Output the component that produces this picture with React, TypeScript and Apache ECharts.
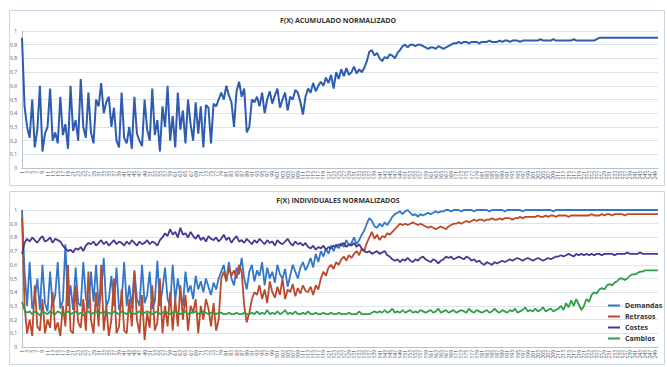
import React, { useEffect, useRef } from "react";
import * as echarts from "echarts";

const titleTop = "F(X) ACUMULADO NORMALIZADO";
const titleBottom = "F(X) INDIVIDUALES NORMALIZADOS";
const seriesNames = ["Demandas", "Retrasos", "Costes", "Cambios"];
const yTicks = [0, 0.1, 0.2, 0.3, 0.4, 0.5, 0.6, 0.7, 0.8, 0.9, 1];

const acumulado = [
  0.95, 0.45, 0.3, 0.22, 0.5, 0.15, 0.28, 0.6, 0.12, 0.25,
  0.3, 0.58, 0.2, 0.26, 0.18, 0.52, 0.24, 0.32, 0.14, 0.6,
  0.27, 0.35, 0.2, 0.65, 0.3, 0.22, 0.55, 0.26, 0.18, 0.5,
  0.45, 0.62, 0.4, 0.48, 0.52, 0.3, 0.44, 0.2, 0.15, 0.55,
  0.22, 0.18, 0.3, 0.14, 0.52, 0.25, 0.2, 0.16, 0.5, 0.28,
  0.2, 0.58, 0.24, 0.35, 0.12, 0.45, 0.3, 0.6, 0.2, 0.38,
  0.15, 0.55, 0.28, 0.42, 0.18, 0.5, 0.32, 0.2, 0.48, 0.25,
  0.45, 0.15, 0.46, 0.44, 0.18, 0.47, 0.45, 0.5, 0.55, 0.5,
  0.6, 0.53, 0.48, 0.3, 0.56, 0.63, 0.52, 0.58, 0.26, 0.3,
  0.5, 0.48, 0.52, 0.45, 0.55, 0.4, 0.5, 0.56, 0.47, 0.53,
  0.58, 0.44, 0.5, 0.55, 0.42, 0.52, 0.5, 0.57, 0.55, 0.48,
  0.39, 0.52, 0.58, 0.55, 0.62, 0.56, 0.6, 0.63, 0.6, 0.66,
  0.62, 0.68, 0.58, 0.7, 0.65, 0.72, 0.67, 0.73, 0.68, 0.7,
  0.74, 0.69, 0.72, 0.7, 0.73, 0.78, 0.85, 0.86, 0.82, 0.84,
  0.8, 0.78, 0.81, 0.8, 0.83, 0.82, 0.8, 0.84, 0.86, 0.89,
  0.9, 0.88, 0.9, 0.9, 0.89, 0.9, 0.9, 0.89, 0.88, 0.87,
  0.88, 0.88, 0.87, 0.89, 0.88, 0.87, 0.88, 0.89, 0.9, 0.91,
  0.91, 0.92, 0.91, 0.92, 0.92, 0.91, 0.92, 0.92, 0.92, 0.91,
  0.92, 0.92, 0.92, 0.93, 0.92, 0.92, 0.92, 0.93, 0.92, 0.93,
  0.93, 0.92, 0.93, 0.93, 0.93, 0.92, 0.93, 0.93, 0.93, 0.93,
  0.93, 0.93, 0.93, 0.94, 0.93, 0.93, 0.93, 0.93, 0.94, 0.93,
  0.93, 0.93, 0.93, 0.93, 0.93, 0.93, 0.94, 0.93, 0.93, 0.93,
  0.93, 0.93, 0.93, 0.93, 0.93, 0.94, 0.95, 0.95, 0.95, 0.95,
  0.95, 0.95, 0.95, 0.95, 0.95, 0.95, 0.95, 0.95, 0.95, 0.95,
  0.95, 0.95, 0.95, 0.95, 0.95, 0.95, 0.95, 0.95, 0.95, 0.95,
];

const demandas = [
  1.0, 0.55, 0.3, 0.62, 0.28, 0.35, 0.5, 0.27, 0.6, 0.32,
  0.26, 0.55, 0.3, 0.38, 0.62, 0.28, 0.34, 0.75, 0.3, 0.45,
  0.27, 0.58, 0.32, 0.3, 0.62, 0.36, 0.28, 0.55, 0.33, 0.6,
  0.3, 0.4, 0.65, 0.29, 0.35, 0.52, 0.3, 0.58, 0.27, 0.33,
  0.62, 0.3, 0.45, 0.28, 0.56, 0.35, 0.3, 0.6, 0.32, 0.38,
  0.55, 0.28, 0.33, 0.63, 0.3, 0.42, 0.58, 0.35, 0.3, 0.6,
  0.34, 0.5, 0.38, 0.3, 0.55, 0.4, 0.45, 0.35, 0.52, 0.42,
  0.48, 0.4, 0.5, 0.44, 0.38, 0.47, 0.42, 0.5, 0.55, 0.6,
  0.48, 0.62, 0.5, 0.45, 0.58, 0.53, 0.65, 0.5, 0.42, 0.55,
  0.6, 0.48, 0.56, 0.52, 0.62, 0.45, 0.58, 0.5, 0.55, 0.47,
  0.6, 0.53, 0.5, 0.57, 0.44, 0.52, 0.6, 0.55, 0.5, 0.58,
  0.62, 0.56, 0.6, 0.65, 0.58, 0.68, 0.62, 0.7, 0.66, 0.72,
  0.68, 0.74, 0.7, 0.75, 0.72, 0.76, 0.73, 0.78, 0.74, 0.76,
  0.8, 0.75, 0.78, 0.82, 0.85, 0.9, 0.94, 0.92, 0.88, 0.87,
  0.9, 0.88, 0.91, 0.89, 0.92, 0.95, 0.97, 0.98, 0.99, 0.97,
  0.99, 1.0, 0.98, 0.96, 0.97, 0.95, 0.97, 0.96, 0.97, 0.98,
  0.97, 0.98, 0.99, 0.98, 0.99, 0.99, 1.0, 1.0, 0.99, 1.0,
  1.0, 1.0, 0.99, 1.0, 1.0, 1.0, 1.0, 0.99, 1.0, 1.0,
  1.0, 1.0, 1.0, 0.99, 1.0, 1.0, 1.0, 1.0, 1.0, 0.99,
  1.0, 1.0, 1.0, 1.0, 1.0, 1.0, 0.99, 1.0, 1.0, 1.0,
  1.0, 1.0, 1.0, 1.0, 1.0, 1.0, 1.0, 1.0, 0.99, 1.0,
  1.0, 1.0, 1.0, 1.0, 1.0, 1.0, 1.0, 1.0, 1.0, 1.0,
  1.0, 1.0, 1.0, 1.0, 1.0, 1.0, 1.0, 1.0, 1.0, 1.0,
  1.0, 1.0, 1.0, 1.0, 1.0, 1.0, 1.0, 1.0, 1.0, 1.0,
  1.0, 1.0, 1.0, 1.0, 1.0, 1.0, 1.0, 1.0, 1.0, 1.0,
];

const retrasos = [
  0.95, 0.3, 0.1, 0.2, 0.08, 0.45, 0.15, 0.12, 0.35, 0.1,
  0.2, 0.14, 0.4, 0.12, 0.18, 0.08, 0.3, 0.15, 0.6, 0.12,
  0.1, 0.45, 0.18, 0.14, 0.35, 0.12, 0.55, 0.2, 0.1, 0.4,
  0.15, 0.6, 0.12, 0.3, 0.08, 0.2, 0.5, 0.1, 0.15, 0.42,
  0.12, 0.1, 0.35, 0.15, 0.55, 0.2, 0.1, 0.38, 0.05, 0.25,
  0.14, 0.45, 0.12, 0.18, 0.5, 0.1, 0.3, 0.15, 0.4, 0.12,
  0.35, 0.15, 0.45, 0.2, 0.38, 0.12, 0.3, 0.25, 0.35, 0.1,
  0.3, 0.2, 0.35, 0.28, 0.15, 0.32, 0.12, 0.2, 0.5, 0.55,
  0.48, 0.58, 0.52, 0.56, 0.5, 0.6, 0.55, 0.3, 0.18, 0.25,
  0.35, 0.4, 0.38, 0.45, 0.35, 0.42, 0.32, 0.48, 0.4, 0.36,
  0.44, 0.38, 0.5, 0.35, 0.42, 0.4, 0.46, 0.37, 0.43, 0.39,
  0.45, 0.41, 0.4, 0.44, 0.38, 0.45, 0.42, 0.5, 0.55, 0.52,
  0.58, 0.6, 0.57, 0.62, 0.6, 0.64, 0.66, 0.63, 0.67, 0.65,
  0.68, 0.7, 0.67, 0.72, 0.7, 0.76, 0.8, 0.84, 0.79, 0.82,
  0.78, 0.81, 0.8, 0.83, 0.82, 0.84, 0.86, 0.88, 0.9, 0.89,
  0.9, 0.89, 0.9, 0.91, 0.9, 0.89, 0.9, 0.89, 0.88, 0.87,
  0.88, 0.87, 0.86, 0.87, 0.88, 0.87, 0.86, 0.88, 0.89, 0.9,
  0.9, 0.91, 0.9, 0.91, 0.92, 0.91, 0.92, 0.93, 0.92, 0.93,
  0.93, 0.92, 0.93, 0.93, 0.94, 0.93, 0.93, 0.94, 0.93, 0.94,
  0.94, 0.94, 0.93, 0.94, 0.94, 0.95, 0.94, 0.95, 0.95, 0.95,
  0.95, 0.95, 0.96, 0.95, 0.95, 0.96, 0.95, 0.96, 0.96, 0.95,
  0.96, 0.96, 0.96, 0.96, 0.95, 0.96, 0.96, 0.96, 0.96, 0.96,
  0.96, 0.96, 0.96, 0.97, 0.96, 0.96, 0.96, 0.97, 0.96, 0.97,
  0.97, 0.96, 0.97, 0.97, 0.97, 0.97, 0.96, 0.97, 0.97, 0.97,
  0.97, 0.97, 0.97, 0.97, 0.97, 0.97, 0.97, 0.97, 0.97, 0.97,
];

const costes = [
  0.68, 0.76, 0.79, 0.77, 0.8, 0.78, 0.76, 0.79, 0.81, 0.77,
  0.78, 0.8, 0.76, 0.79, 0.78, 0.77, 0.74, 0.72, 0.7, 0.71,
  0.69, 0.72, 0.71, 0.73, 0.7, 0.74, 0.76, 0.75, 0.77, 0.74,
  0.76, 0.78, 0.75, 0.77, 0.74, 0.76, 0.78, 0.75, 0.77, 0.76,
  0.74, 0.77, 0.75, 0.78, 0.76, 0.74, 0.77, 0.75, 0.76, 0.78,
  0.75, 0.77, 0.76, 0.74, 0.78, 0.8, 0.83, 0.81, 0.86, 0.82,
  0.84, 0.8, 0.87, 0.82, 0.83, 0.8, 0.84, 0.81, 0.79, 0.82,
  0.78, 0.8, 0.77, 0.81, 0.79, 0.78, 0.8, 0.77, 0.79, 0.82,
  0.78, 0.8, 0.76, 0.79, 0.81, 0.77, 0.78, 0.76, 0.79, 0.77,
  0.75, 0.78, 0.76, 0.79, 0.77, 0.75, 0.78, 0.76, 0.77, 0.74,
  0.78, 0.76, 0.75, 0.77, 0.79, 0.76, 0.74, 0.77, 0.75, 0.76,
  0.74, 0.76, 0.73, 0.72, 0.74, 0.71, 0.73, 0.72, 0.74, 0.71,
  0.73, 0.72, 0.74, 0.73, 0.75, 0.74, 0.76, 0.73, 0.75, 0.74,
  0.76, 0.73, 0.75, 0.72, 0.7, 0.69, 0.7, 0.68, 0.69, 0.7,
  0.68, 0.69, 0.7, 0.67, 0.66, 0.64, 0.63, 0.64, 0.62, 0.64,
  0.63, 0.65, 0.63, 0.62, 0.64, 0.63, 0.65, 0.66, 0.64, 0.63,
  0.62, 0.64, 0.63, 0.61, 0.63, 0.64, 0.66, 0.65, 0.66, 0.64,
  0.65, 0.66, 0.65, 0.64, 0.66, 0.65, 0.63, 0.64, 0.62, 0.63,
  0.61, 0.6, 0.62, 0.61, 0.6, 0.62, 0.61, 0.62, 0.63, 0.62,
  0.63, 0.64, 0.63, 0.64, 0.65, 0.64, 0.63, 0.64, 0.65, 0.64,
  0.63, 0.64, 0.65, 0.64, 0.63, 0.64, 0.65, 0.64, 0.65, 0.66,
  0.66, 0.67, 0.66, 0.67, 0.68, 0.67, 0.66, 0.68, 0.67, 0.68,
  0.67, 0.68, 0.67, 0.68, 0.67, 0.68, 0.68, 0.67, 0.68, 0.68,
  0.68, 0.68, 0.67, 0.68, 0.68, 0.68, 0.68, 0.69, 0.68, 0.68,
  0.68, 0.68, 0.69, 0.68, 0.68, 0.68, 0.68, 0.68, 0.68, 0.68,
];

const cambios = [
  0.33, 0.27, 0.25, 0.26, 0.24, 0.26, 0.25, 0.23, 0.26, 0.25,
  0.24, 0.26, 0.25, 0.24, 0.26, 0.25, 0.23, 0.25, 0.26, 0.24,
  0.25, 0.26, 0.24, 0.25, 0.23, 0.25, 0.26, 0.24, 0.25, 0.26,
  0.24, 0.25, 0.26, 0.24, 0.25, 0.24, 0.26, 0.25, 0.24, 0.26,
  0.25, 0.24, 0.26, 0.25, 0.24, 0.25, 0.26, 0.24, 0.25, 0.26,
  0.25, 0.24, 0.25, 0.26, 0.24, 0.25, 0.26, 0.25, 0.24, 0.25,
  0.26, 0.25, 0.24, 0.25, 0.26, 0.24, 0.25, 0.25, 0.26, 0.24,
  0.25, 0.26, 0.25, 0.24, 0.25, 0.25, 0.24, 0.25, 0.25, 0.24,
  0.24, 0.25, 0.24, 0.24, 0.25, 0.24, 0.24, 0.25, 0.24, 0.24,
  0.25, 0.24, 0.26, 0.24, 0.25, 0.24, 0.27, 0.24, 0.25, 0.24,
  0.26, 0.24, 0.25, 0.27, 0.24, 0.25, 0.24, 0.26, 0.24, 0.24,
  0.25, 0.24, 0.26, 0.24, 0.24, 0.25, 0.24, 0.24, 0.25, 0.24,
  0.24, 0.25, 0.24, 0.24, 0.25, 0.24, 0.24, 0.24, 0.25, 0.24,
  0.24, 0.24, 0.26, 0.24, 0.24, 0.24, 0.24, 0.25, 0.26, 0.25,
  0.26, 0.25, 0.27, 0.25, 0.26, 0.28, 0.25, 0.26, 0.25, 0.27,
  0.25, 0.26, 0.27, 0.25, 0.26, 0.25, 0.27, 0.26, 0.25, 0.26,
  0.27, 0.25, 0.26, 0.28, 0.25, 0.26, 0.27, 0.25, 0.26, 0.27,
  0.25, 0.26, 0.27, 0.26, 0.25, 0.28, 0.26, 0.25, 0.27, 0.26,
  0.25, 0.26, 0.27, 0.25, 0.26, 0.28, 0.26, 0.25, 0.27, 0.26,
  0.25, 0.27, 0.26, 0.28, 0.25, 0.26, 0.27, 0.29, 0.26, 0.27,
  0.26, 0.28, 0.26, 0.27, 0.29, 0.26, 0.27, 0.28, 0.26, 0.27,
  0.28, 0.3, 0.27, 0.32, 0.29, 0.34, 0.3, 0.35, 0.31, 0.27,
  0.3, 0.35, 0.33, 0.38, 0.4, 0.39, 0.42, 0.43, 0.42, 0.45,
  0.46, 0.45, 0.47, 0.48, 0.5, 0.5, 0.49, 0.5, 0.52, 0.53,
  0.53, 0.54, 0.55, 0.55, 0.56, 0.56, 0.56, 0.56, 0.56, 0.56,
];

const categories = acumulado.map((_, i) => String(i + 1));

const colors = {
  top: "#2d5cb0",
  Demandas: "#3477c8",
  Retrasos: "#bb4a2c",
  Costes: "#483896",
  Cambios: "#2f9e45",
};

const FONT = "'Open Sans', 'DejaVu Sans', sans-serif";

function yLabel(v: number) {
  if (v === 0) return "0";
  if (v === 1) return "1";
  return v.toFixed(1).replace(".", ",");
}

export default function App() {
  const ref = useRef<HTMLDivElement>(null);
  useEffect(() => {
    if (!ref.current) return;
    const chart = echarts.init(ref.current, undefined, { renderer: "svg" });
    const xAxisBase = (gridIndex: number) => ({
      type: "category" as const,
      gridIndex,
      data: categories,
      boundaryGap: false,
      axisLine: { lineStyle: { color: "#b8c2cc", width: 1 } },
      axisTick: { show: false },
      axisLabel: {
        rotate: 90,
        interval: 1,
        fontSize: 5,
        color: "#3b4a5e",
        margin: 3,
        fontFamily: FONT,
      },
      splitLine: { show: false },
    });
    const yAxisBase = (gridIndex: number) => ({
      type: "value" as const,
      gridIndex,
      min: yTicks[0],
      max: yTicks[yTicks.length - 1],
      interval: 0.1,
      axisLine: { show: true, lineStyle: { color: "#b8c2cc", width: 1 } },
      axisTick: { show: false },
      axisLabel: {
        fontSize: 5,
        color: "#556",
        margin: 5,
        fontFamily: FONT,
        formatter: yLabel,
      },
      splitLine: { lineStyle: { color: "#dbe4ec", width: 1 } },
    });
    const bottomData = [demandas, retrasos, costes, cambios];
    chart.setOption({
      animation: false,
      backgroundColor: "#ffffff",
      textStyle: { fontFamily: FONT },
      grid: [
        { left: 22, right: 9, top: 31, height: 137 },
        { left: 22, right: 9, top: 210, height: 137 },
      ],
      xAxis: [xAxisBase(0), xAxisBase(1)],
      yAxis: [yAxisBase(0), yAxisBase(1)],
      legend: {
        data: seriesNames,
        orient: "vertical",
        left: 603,
        top: 297,
        itemWidth: 12,
        itemHeight: 2,
        itemGap: 4,
        icon: "rect",
        textStyle: { fontSize: 7, fontWeight: "bold", color: "#333", fontFamily: FONT },
      },
      graphic: [
        {
          type: "rect",
          shape: { x: 9.5, y: 10.5, width: 655, height: 175 },
          style: { fill: "none", stroke: "#c9d7e6", lineWidth: 1 },
          silent: true,
        },
        {
          type: "rect",
          shape: { x: 9.5, y: 191.5, width: 655, height: 173 },
          style: { fill: "none", stroke: "#c9d7e6", lineWidth: 1 },
          silent: true,
        },
        {
          type: "text",
          x: 338,
          y: 20,
          style: {
            text: titleTop,
            fontSize: 7,
            fontWeight: "bold",
            fill: "#333",
            align: "center",
            verticalAlign: "middle",
            fontFamily: FONT,
          },
        },
        {
          type: "text",
          x: 338,
          y: 200,
          style: {
            text: titleBottom,
            fontSize: 7,
            fontWeight: "bold",
            fill: "#333",
            align: "center",
            verticalAlign: "middle",
            fontFamily: FONT,
          },
        },
      ],
      series: [
        {
          name: "Acumulado",
          type: "line",
          xAxisIndex: 0,
          yAxisIndex: 0,
          data: acumulado,
          symbol: "none",
          lineStyle: { color: colors.top, width: 2 },
          itemStyle: { color: colors.top },
        },
        ...seriesNames.map((name, k) => ({
          name,
          type: "line",
          xAxisIndex: 1,
          yAxisIndex: 1,
          data: bottomData[k],
          symbol: "none",
          lineStyle: { color: (colors as any)[name], width: 1.8 },
          itemStyle: { color: (colors as any)[name] },
        })),
      ],
    });
    return () => chart.dispose();
  }, []);
  return (
    <div
      ref={ref}
      style={{ position: "fixed", left: 0, top: 0, width: 667, height: 367, background: "#fff" }}
    />
  );
}
